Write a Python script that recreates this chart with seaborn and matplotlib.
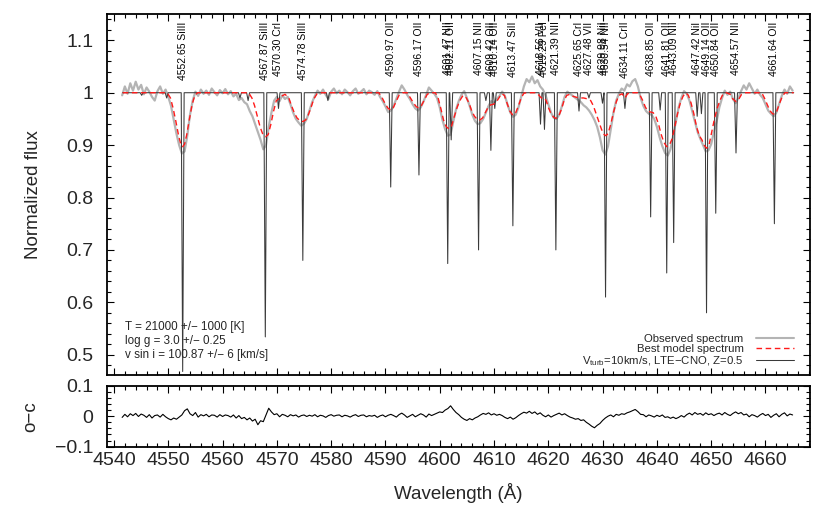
import numpy as np
import matplotlib
matplotlib.use("Agg")
import matplotlib.pyplot as plt
from matplotlib.ticker import MultipleLocator, FuncFormatter
from matplotlib.lines import Line2D
import seaborn as sns

# ---------------- data ----------------
obs_start = 4541.5
obs_step = 0.5
observed_flux = [
    0.995, 1.012, 0.998, 1.018, 1.004, 1.021, 1.006, 1.015, 0.997, 1.010, 1.002, 0.992, 0.985, 1.003, 1.012, 0.998, 1.006, 0.992, 0.975, 0.948,
    0.922, 0.900, 0.884, 0.888, 0.918, 0.958, 0.985, 1.002, 0.994, 1.006, 0.998, 1.004, 0.996, 1.008, 1.001, 0.995, 1.005, 0.999, 1.007, 0.997,
    1.003, 0.993, 0.998, 0.986, 0.990, 0.982, 0.978, 0.965, 0.955, 0.940, 0.925, 0.910, 0.892, 0.900, 0.935, 0.962, 0.985, 0.992, 0.984, 0.995,
    0.988, 0.992, 0.978, 0.962, 0.950, 0.943, 0.937, 0.941, 0.950, 0.966, 0.982, 0.994, 1.004, 0.998, 1.006, 0.996, 0.988, 1.002, 1.008, 0.999,
    1.004, 0.997, 1.006, 1.001, 0.995, 1.003, 1.008, 0.998, 1.002, 1.007, 0.997, 1.004, 1.001, 0.996, 1.003, 0.992, 0.984, 0.974, 0.963, 0.966,
    0.975, 0.988, 1.002, 1.014, 1.006, 0.996, 0.988, 0.978, 0.970, 0.966, 0.972, 0.983, 0.996, 1.010, 1.004, 0.998, 0.990, 0.972, 0.948, 0.930,
    0.918, 0.920, 0.945, 0.968, 0.984, 0.996, 1.003, 0.990, 0.975, 0.958, 0.946, 0.940, 0.942, 0.950, 0.962, 0.975, 0.984, 0.980, 0.988, 0.994,
    1.002, 0.994, 0.977, 0.962, 0.954, 0.958, 0.972, 0.992, 1.012, 1.026, 1.020, 1.031, 1.018, 1.024, 1.012, 1.006, 0.995, 0.978, 0.962, 0.952,
    0.950, 0.958, 0.974, 0.992, 1.002, 0.998, 0.994, 0.990, 0.986, 0.982, 0.976, 0.972, 0.966, 0.958, 0.948, 0.935, 0.915, 0.890, 0.882, 0.898,
    0.930, 0.962, 0.985, 0.998, 1.008, 1.004, 1.016, 1.012, 1.022, 1.026, 1.012, 0.990, 0.975, 0.965, 0.960, 0.958, 0.950, 0.935, 0.915, 0.898,
    0.885, 0.880, 0.892, 0.918, 0.945, 0.972, 0.990, 1.003, 0.998, 0.985, 0.965, 0.945, 0.925, 0.912, 0.900, 0.888, 0.890, 0.902, 0.925, 0.945,
    0.972, 0.990, 1.004, 0.996, 1.002, 0.988, 0.980, 0.990, 1.003, 1.014, 1.006, 1.018, 1.008, 0.998, 1.006, 0.996, 0.990, 0.978, 0.966, 0.960,
    0.955, 0.962, 0.978, 0.994, 1.006, 0.998, 1.012, 1.004,
]

residual = [
    -0.004, 0.006, -0.002, 0.008, 0.002, 0.009, -0.001, 0.007, 0.003, -0.004, 0.005, -0.006, 0.002, 0.004, -0.003, 0.006, -0.002, -0.008, -0.012, -0.006,
    -0.010, -0.003, 0.004, 0.018, 0.024, 0.008, 0.002, 0.012, -0.003, 0.005, 0.001, 0.006, -0.002, 0.004, 0.003, -0.003, 0.005, -0.001, 0.004, 0.002,
    -0.003, 0.004, -0.006, 0.002, -0.008, -0.004, -0.012, -0.006, -0.016, -0.010, -0.028, -0.015, -0.018, 0.004, 0.026, 0.014, 0.005, 0.008, -0.002, 0.006,
    0.003, -0.002, 0.005, 0.001, 0.004, -0.003, 0.002, 0.004, -0.001, 0.003, 0.000, 0.005, -0.002, 0.003, 0.001, -0.004, 0.002, 0.005, 0.000, 0.003,
    0.004, -0.002, 0.003, 0.001, -0.003, 0.002, 0.005, -0.001, 0.003, 0.004, -0.002, 0.002, 0.000, 0.003, -0.004, 0.001, 0.004, -0.002, 0.003, 0.006,
    0.002, -0.003, 0.005, 0.010, 0.004, -0.004, 0.001, 0.006, -0.002, 0.003, 0.008, 0.004, -0.003, 0.007, 0.002, 0.006, 0.010, 0.014, 0.012, 0.020,
    0.025, 0.034, 0.022, 0.012, 0.005, -0.004, -0.010, -0.014, -0.008, -0.012, -0.006, -0.002, 0.004, 0.009, 0.006, 0.011, 0.004, 0.008, 0.003, 0.006,
    0.002, -0.004, -0.008, -0.003, -0.010, -0.005, 0.002, 0.008, 0.013, 0.010, 0.016, 0.009, 0.014, 0.006, 0.011, 0.003, -0.002, 0.004, -0.003, 0.002,
    0.006, 0.010, 0.004, 0.008, 0.002, -0.003, -0.006, -0.010, -0.008, -0.014, -0.012, -0.020, -0.026, -0.033, -0.038, -0.030, -0.024, -0.014, -0.006, 0.000,
    0.004, -0.002, 0.006, 0.003, 0.008, 0.006, 0.011, 0.014, 0.018, 0.022, 0.015, 0.006, 0.005, -0.002, 0.004, 0.001, -0.003, 0.003, -0.001, 0.004,
    -0.004, -0.002, -0.007, -0.003, -0.008, -0.004, 0.002, -0.003, 0.005, 0.010, 0.004, 0.012, 0.006, 0.009, 0.003, 0.011, 0.005, 0.008, 0.002, 0.007,
    0.010, 0.004, 0.012, 0.006, 0.002, 0.009, 0.014, 0.008, 0.012, 0.004, 0.007, -0.002, 0.005, 0.002, -0.003, 0.004, 0.009, 0.002, 0.006, -0.004,
    0.003, 0.008, -0.002, 0.006, 0.011, 0.001, 0.007, 0.004,
]

model_wave = [
    4541.6, 4549.8, 4550.4, 4550.9, 4551.4, 4551.9, 4552.3, 4552.65, 4553.0, 4553.4, 4553.9, 4554.4, 4554.9, 4555.4,
    4564.8, 4565.4, 4565.9, 4566.4, 4566.9, 4567.4, 4567.9, 4568.4, 4568.9, 4569.4, 4569.9, 4570.3, 4570.8, 4571.5,
    4572.2, 4572.7, 4573.2, 4573.7, 4574.2, 4574.78, 4575.3, 4575.8, 4576.3, 4576.8, 4577.4, 4578.0,
    4588.8, 4589.4, 4590.0, 4590.5, 4590.97, 4591.4, 4591.9, 4592.5, 4593.2,
    4594.0, 4594.6, 4595.2, 4595.7, 4596.17, 4596.6, 4597.1, 4597.7, 4598.3,
    4599.2, 4599.7, 4600.2, 4600.7, 4601.2, 4601.7, 4602.2, 4602.7, 4603.2, 4603.7,
    4604.3, 4604.9, 4605.4, 4605.9, 4606.4, 4606.9, 4607.4, 4607.9, 4608.4, 4608.9,
    4609.4, 4609.9, 4610.4, 4610.9, 4611.4, 4611.9, 4612.4, 4612.9, 4613.47, 4614.0,
    4614.5, 4615.0, 4615.5, 4616.0,
    4617.8, 4618.3, 4618.7, 4619.3, 4619.6, 4620.0, 4620.5, 4621.0, 4621.39, 4621.9,
    4622.4, 4622.9, 4623.4, 4624.0, 4624.6, 4625.65, 4626.5, 4627.3, 4627.8, 4628.3,
    4628.8, 4629.3, 4629.8, 4630.3, 4630.6, 4631.0, 4631.5, 4632.0, 4632.5, 4633.0,
    4633.6, 4634.1, 4634.6, 4635.2,
    4636.4, 4636.9, 4637.4, 4637.9, 4638.4, 4638.85, 4639.3, 4639.8, 4640.3, 4640.8,
    4641.3, 4641.81, 4642.3, 4642.8, 4643.3, 4643.8, 4644.3, 4644.8, 4645.3, 4645.8,
    4646.3, 4646.8, 4647.3, 4647.8, 4648.3, 4648.7, 4649.14, 4649.6, 4650.1, 4650.6,
    4651.1, 4651.6, 4652.2, 4652.8, 4653.5, 4654.0, 4654.57, 4655.1, 4655.6, 4656.2,
    4659.3, 4659.8, 4660.3, 4660.8, 4661.3, 4661.64, 4662.1, 4662.6, 4663.1, 4663.6, 4665.2,
]
model_flux = [
    1.0, 1.0, 0.99, 0.97, 0.945, 0.918, 0.902, 0.897, 0.902, 0.92, 0.95, 0.978, 0.995, 1.0,
    1.0, 0.99, 0.975, 0.955, 0.935, 0.921, 0.916, 0.92, 0.94, 0.965, 0.985, 0.988, 0.993, 0.997,
    0.99, 0.975, 0.962, 0.952, 0.947, 0.945, 0.948, 0.958, 0.972, 0.988, 0.998, 1.0,
    1.0, 0.99, 0.978, 0.97, 0.967, 0.97, 0.982, 0.995, 1.0,
    1.0, 0.99, 0.98, 0.973, 0.971, 0.975, 0.985, 0.997, 1.0,
    1.0, 0.99, 0.97, 0.948, 0.935, 0.931, 0.937, 0.955, 0.972, 0.985,
    0.995, 0.99, 0.98, 0.965, 0.955, 0.949, 0.948, 0.952, 0.962, 0.972,
    0.977, 0.978, 0.982, 0.99, 0.998, 0.995, 0.98, 0.965, 0.957, 0.962,
    0.975, 0.99, 0.999, 1.0,
    1.0, 0.995, 0.99, 0.99, 0.985, 0.972, 0.96, 0.953, 0.951, 0.955,
    0.968, 0.985, 0.995, 0.997, 0.993, 0.99, 0.99, 0.988, 0.985, 0.975,
    0.96, 0.945, 0.93, 0.92, 0.918, 0.922, 0.94, 0.962, 0.982, 0.995,
    0.998, 0.99, 0.998, 1.0,
    1.0, 0.995, 0.985, 0.972, 0.965, 0.963, 0.962, 0.955, 0.94, 0.92,
    0.905, 0.897, 0.9, 0.912, 0.935, 0.96, 0.98, 0.993, 1.0, 0.995,
    0.98, 0.96, 0.935, 0.918, 0.91, 0.9, 0.894, 0.9, 0.925, 0.95,
    0.97, 0.985, 0.998, 1.0, 0.997, 0.988, 0.983, 0.988, 0.997, 1.0,
    1.0, 0.99, 0.978, 0.966, 0.96, 0.959, 0.965, 0.98, 0.993, 1.0, 1.0,
]

# narrow-line model (V_turb=10 km/s): line centres and minimum fluxes
narrow_centers = [4545.1, 4549.7, 4552.65, 4563.2, 4564.7, 4567.87, 4570.30, 4574.78, 4579.4,
                  4590.97, 4596.17, 4601.47, 4602.11, 4607.15, 4608.5, 4609.42, 4610.14, 4613.47,
                  4618.56, 4619.29, 4621.39, 4625.65, 4627.48, 4629.98, 4630.54, 4634.11, 4638.85,
                  4640.6, 4641.81, 4643.09, 4647.42, 4648.2, 4649.14, 4650.84, 4654.57, 4661.64]
narrow_depths = [0.995, 0.99, 0.468, 0.99, 0.985, 0.534, 0.97, 0.68, 0.985,
                 0.82, 0.843, 0.674, 0.91, 0.70, 0.985, 0.89, 0.97, 0.746,
                 0.94, 0.93, 0.70, 0.965, 0.99, 0.98, 0.61, 0.97, 0.763,
                 0.967, 0.656, 0.714, 0.955, 0.96, 0.58, 0.77, 0.885, 0.75]
narrow_range = (4541.6, 4665.2)

# line identifications
label_wave = [4552.65, 4567.87, 4570.30, 4574.78, 4590.97, 4596.17, 4601.47, 4602.11, 4607.15,
              4609.42, 4610.14, 4613.47, 4618.56, 4619.29, 4621.39, 4625.65, 4627.48, 4629.98,
              4630.54, 4634.11, 4638.85, 4641.81, 4643.09, 4647.42, 4649.14, 4650.84, 4654.57,
              4661.64]
label_ion = ["SiIII", "SiIII", "CrI", "SiIII", "OII", "OII", "NII", "OII", "NII",
             "OII", "OII", "SiII", "VII", "FeI", "NII", "CrI", "VII", "NiI",
             "NII", "CrII", "OII", "OII", "NII", "NiI", "OII", "OII", "NII",
             "OII"]

params_text = ["T = 21000 +/\u2212 1000 [K]",
               "log g = 3.0 +/\u2212 0.25",
               "v sin i = 100.87 +/\u2212 6 [km/s]"]
legend_labels = ["Observed spectrum", "Best model spectrum",
                 "V$_{\\rm turb}$=10km/s, LTE\u2212CNO, Z=0.5"]

# ---------------- styling ----------------
sns.set_style("ticks")
plt.rcParams['font.family'] = ['Liberation Sans', 'DejaVu Sans']
plt.rcParams['mathtext.fontset'] = 'custom'
plt.rcParams['mathtext.rm'] = 'Liberation Sans'
plt.rcParams['mathtext.it'] = 'Liberation Sans:italic'
plt.rcParams['axes.unicode_minus'] = True

OBS_C = '#b4b4b4'
MOD_C = '#ff1a1a'
NAR_C = '#3a3a3a'

fig = plt.figure(figsize=(8.3, 5.08), dpi=100)
ax = fig.add_axes([0.1295, 0.2618, 0.8464, 0.7100])
axr = fig.add_axes([0.1295, 0.1207, 0.8464, 0.1201])

obs_wave = obs_start + obs_step * np.arange(len(observed_flux))
res_wave = obs_start + obs_step * np.arange(len(residual))

# narrow model polyline from line centres / depths
nw, nf = [narrow_range[0]], [1.0]
for c, d in sorted(zip(narrow_centers, narrow_depths)):
    nw += [c - 0.27, c, c + 0.27]
    nf += [1.0, d, 1.0]
nw.append(narrow_range[1]); nf.append(1.0)

sns.lineplot(x=obs_wave, y=np.array(observed_flux), ax=ax, color=OBS_C,
             linewidth=1.6, estimator=None, sort=False, zorder=1)
sns.lineplot(x=np.array(nw), y=np.array(nf), ax=ax, color=NAR_C,
             linewidth=0.75, estimator=None, sort=False, zorder=2)
sns.lineplot(x=np.array(model_wave), y=np.array(model_flux), ax=ax, color=MOD_C,
             linewidth=1.0, estimator=None, sort=False, zorder=3,
             dashes=False)
ax.lines[-1].set_linestyle((0, (4, 2.6)))

sns.lineplot(x=res_wave, y=np.array(residual), ax=axr, color='black',
             linewidth=0.8, estimator=None, sort=False)

xlim = (4538.8, 4668.2)
ax.set_xlim(*xlim)
axr.set_xlim(*xlim)
ax.set_ylim(0.4613, 1.1496)
axr.set_ylim(-0.1, 0.1)


def fmt(v, pos):
    s = '%g' % round(v, 6)
    if s == '-0':
        s = '0'
    return s.replace('-', '\u2212')


for a, ymaj, ymin in ((ax, 0.1, 0.02), (axr, 0.1, 0.02)):
    a.xaxis.set_major_locator(MultipleLocator(10))
    a.xaxis.set_minor_locator(MultipleLocator(2))
    a.yaxis.set_major_locator(MultipleLocator(ymaj))
    a.yaxis.set_minor_locator(MultipleLocator(ymin))
    a.yaxis.set_major_formatter(FuncFormatter(fmt))
    a.tick_params(which='both', direction='in', top=True, right=True,
                  width=0.8, color='black')
    a.tick_params(which='major', length=5.3)
    a.tick_params(which='minor', length=2.7)
    a.tick_params(axis='y', pad=10, labelsize=14)
    a.tick_params(axis='x', pad=3.5, labelsize=14)
    for s in a.spines.values():
        s.set_linewidth(1.3)
        s.set_color('black')
    a.set_xlabel('')
    a.set_ylabel('')

ax.tick_params(axis='x', labelbottom=False)
axr.xaxis.set_major_formatter(FuncFormatter(lambda v, p: '%d' % round(v)))

ax.set_ylabel('Normalized flux', fontsize=13.5, va='center')
ax.yaxis.set_label_coords(-0.106, 0.5)
axr.set_ylabel('o\u2212c', fontsize=13.5, va='center')
axr.yaxis.set_label_coords(-0.109, 0.5)
axr.set_xlabel('Wavelength (\u00c5)', fontsize=13.5, va='center')
axr.xaxis.set_label_coords(0.5, -0.76)

# line identification labels
for w, ion in zip(label_wave, label_ion):
    ax.text(w, 1.136, f"{w:.2f} {ion}", rotation=90, ha='center', va='top',
            fontsize=7.5, color='black')

# stellar parameter annotations
for ytxt, t in zip((0.1248, 0.0873, 0.0485), params_text):
    ax.text(0.0249, ytxt, t, transform=ax.transAxes, fontsize=8.4,
            ha='left', va='baseline')

handles = [Line2D([], [], color=OBS_C, linewidth=1.5),
           Line2D([], [], color=MOD_C, linewidth=1.0, linestyle=(0, (4, 2.6))),
           Line2D([], [], color=NAR_C, linewidth=0.75)]
ax.legend(handles, legend_labels, loc='lower right', bbox_to_anchor=(0.977, 0.02),
          frameon=False, fontsize=8.2, markerfirst=False, handlelength=3.3,
          handletextpad=1.1, labelspacing=0.0, borderpad=0, borderaxespad=0)

fig.savefig('out.png', dpi=100)
